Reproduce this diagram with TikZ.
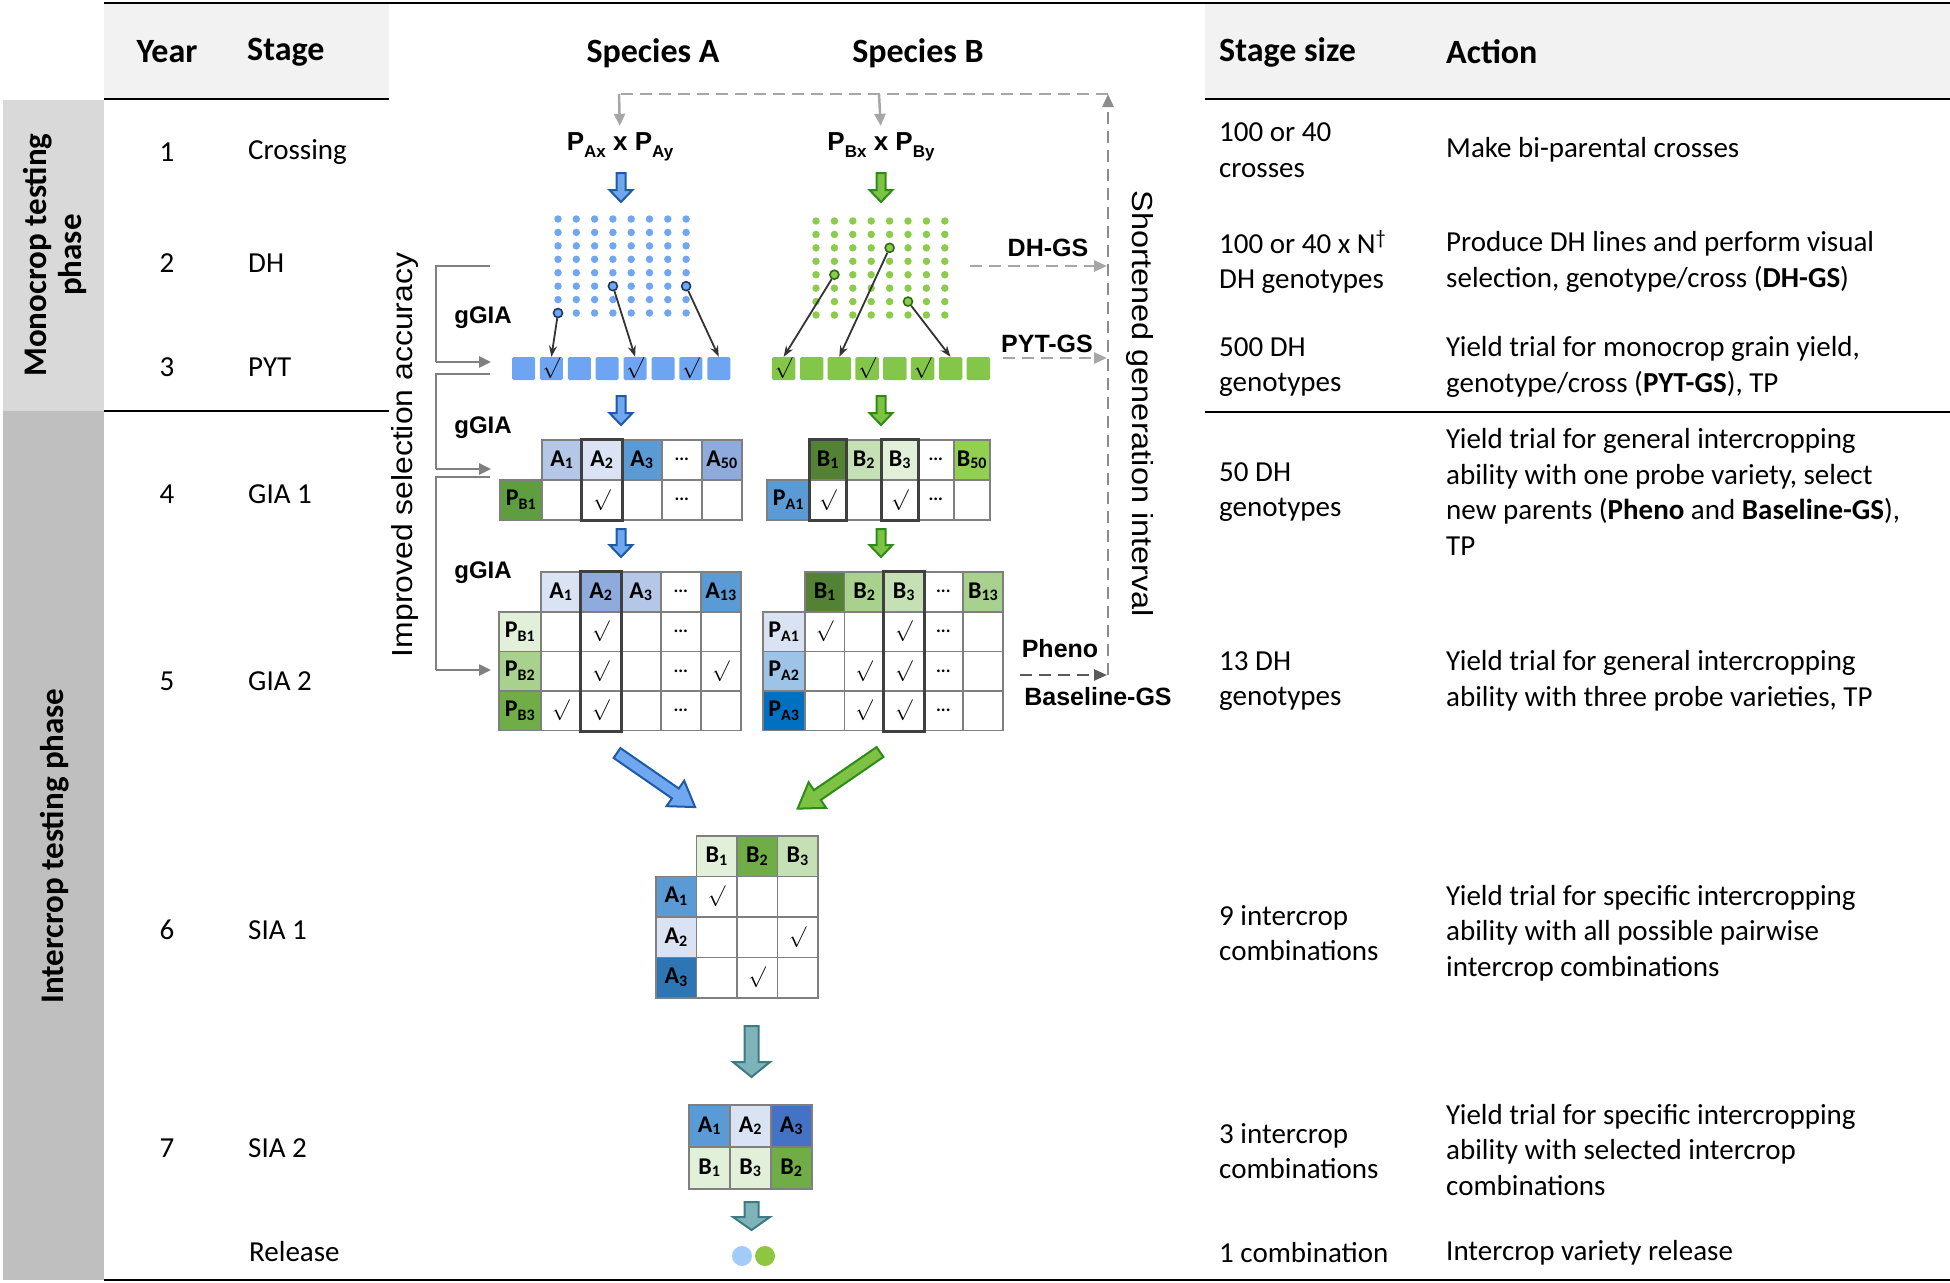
\documentclass[tikz,border=0pt]{standalone}
\usepackage{fontspec}
\setmainfont{Carlito}
\newfontfamily\arl{Liberation Sans}
\usetikzlibrary{arrows.meta}
\definecolor{hdrgray}{HTML}{F2F2F2}
\definecolor{monogray}{HTML}{D9D9D9}
\definecolor{intergray}{HTML}{BFBFBF}
\definecolor{dotblue}{HTML}{70A7F0}
\definecolor{dotgreen}{HTML}{8CCB4E}
\definecolor{sqblue}{HTML}{6DA5F2}
\definecolor{sqgreen}{HTML}{84C64A}
\definecolor{mnavy}{HTML}{1F3864}
\definecolor{mdkgreen}{HTML}{2E6B12}
\definecolor{arrblueF}{HTML}{6FA8F0}
\definecolor{arrblueD}{HTML}{1F5AA6}
\definecolor{arrgreenF}{HTML}{7DC242}
\definecolor{arrgreenD}{HTML}{2E8B1A}
\definecolor{tealF}{HTML}{7FB3BA}
\definecolor{tealD}{HTML}{3D7A83}
\definecolor{cellgray}{HTML}{7F7F7F}
\definecolor{lgray}{HTML}{A6A6A6}
\definecolor{mgray}{HTML}{8C8C8C}
\definecolor{dgray}{HTML}{595959}
\definecolor{bgray}{HTML}{808080}
\definecolor{ptrgray}{HTML}{333333}
\definecolor{bA}{HTML}{DAE3F3}
\definecolor{bB}{HTML}{B4C7E7}
\definecolor{bC}{HTML}{8FAADC}
\definecolor{bD}{HTML}{5B9BD5}
\definecolor{bE}{HTML}{2E75B6}
\definecolor{bF}{HTML}{0070C0}
\definecolor{bG}{HTML}{4472C4}
\definecolor{bH}{HTML}{9DC3E6}
\definecolor{gA}{HTML}{E2F0D9}
\definecolor{gB}{HTML}{C5E0B4}
\definecolor{gC}{HTML}{A9D18E}
\definecolor{gD}{HTML}{70AD47}
\definecolor{gE}{HTML}{548235}
\definecolor{gF}{HTML}{92D050}
\definecolor{gG}{HTML}{5E9E3E}
\definecolor{relblue}{HTML}{A3CBF7}
\definecolor{relgreen}{HTML}{8DC63F}
\newcommand{\lbl}[2]{#1\raisebox{-0.12em}{\fontsize{16}{16}\selectfont #2}}
\newcommand{\plbl}[1]{P\raisebox{-0.15em}{\fontsize{16}{16}\selectfont #1}}
\newcommand{\ck}{{\normalsize\scalebox{2.1}{$\surd$}}}
\newcommand{\ellip}{\raisebox{-0.1em}{\fontsize{18}{18}\selectfont\bfseries ...}}
\newcommand{\tcell}[7]{\node[tcellst,fill=#6,minimum width=#4pt,minimum height=#5pt] (#1) at (#2,#3) {#7};}
\newcommand{\blockarr}[8]{\begin{scope}[shift={(#1,#2)},rotate=#3]\filldraw[#8] (0,{-#5/2}) -- ({#4-#7},{-#5/2}) -- ({#4-#7},{-#6/2}) -- (#4,0) -- ({#4-#7},{#6/2}) -- ({#4-#7},{#5/2}) -- (0,{#5/2}) -- cycle;\end{scope}}
\newcommand{\pxlabel}[2]{P\raisebox{-0.25em}{\fontsize{17}{17}\selectfont #1} x P\raisebox{-0.25em}{\fontsize{17}{17}\selectfont #2}}
\begin{document}
\begin{tikzpicture}[x=1pt,y=-1pt,
  hdr/.style={font=\fontsize{34}{40}\selectfont\bfseries, inner sep=0pt},
  body/.style={font=\fontsize{29}{35.5}\selectfont, align=left, anchor=west, inner sep=0pt},
  yr/.style={font=\fontsize{29}{35.5}\selectfont, inner sep=0pt},
  phase/.style={font=\fontsize{33}{35}\selectfont\bfseries, align=center, inner sep=0pt, rotate=90},
  lab/.style={font=\arl\bfseries\fontsize{25}{30}\selectfont, inner sep=0pt},
  rotlab/.style={font=\arl\fontsize{29}{32}\selectfont, inner sep=0pt},
  tcellst/.style={draw=cellgray, line width=1.5pt, inner sep=0pt, anchor=north west, font=\bfseries\fontsize{24}{24}\selectfont},
  hl/.style={draw=black!75, line width=3pt},
  dotA/.style={circle, fill=dotblue, inner sep=0pt, minimum size=7.5pt},
  dotB/.style={circle, fill=dotgreen, inner sep=0pt, minimum size=7.5pt},
  dotAh/.style={circle, fill=dotblue, draw=mnavy, line width=1.6pt, inner sep=0pt, minimum size=9pt},
  dotBh/.style={circle, fill=dotgreen, draw=mdkgreen, line width=1.6pt, inner sep=0pt, minimum size=9pt},
  sqA/.style={rectangle, rounded corners=1.5pt, fill=sqblue, inner sep=0pt, minimum width=23pt, minimum height=23pt},
  sqB/.style={rectangle, rounded corners=1.5pt, fill=sqgreen, inner sep=0pt, minimum width=23.5pt, minimum height=23pt},
  ptr/.style={draw=ptrgray, line width=1.8pt, -{Stealth[length=11pt,width=8pt]}},
  brk/.style={draw=bgray, line width=2.5pt},
  brkarr/.style={draw=bgray, line width=2.5pt, -{Triangle[length=12pt,width=11pt]}},
  fb/.style={draw=lgray, line width=2.5pt, dash pattern=on 12pt off 7pt},
  fbarr/.style={draw=lgray, line width=2.5pt, dash pattern=on 12pt off 7pt, -{Triangle[length=13pt,width=11pt]}},
  fbsolid/.style={draw=lgray, line width=2.5pt, -{Triangle[length=12pt,width=11pt]}},
  pharr/.style={draw=dgray, line width=2.5pt, dash pattern=on 12pt off 7pt, -{Triangle[length=13pt,width=11pt]}},
  barrB/.style={fill=arrblueF, draw=arrblueD, line width=2pt, line join=miter},
  barrG/.style={fill=arrgreenF, draw=arrgreenD, line width=2pt, line join=miter},
  barrT/.style={fill=tealF, draw=tealD, line width=2pt, line join=miter}
]
\useasboundingbox (0,0) rectangle (1950,1282);
% backgrounds
\fill[hdrgray] (104,4) rectangle (389,98);
\fill[hdrgray] (1205,4) rectangle (1950,98);
\fill[monogray] (3,100) rectangle (104,411);
\fill[intergray] (3,411) rectangle (104,1280);
% rules
\draw[line width=2.5pt] (104,3) -- (1950,3);
\draw[line width=2.5pt] (104,99) -- (389,99);
\draw[line width=2.5pt] (1205,99) -- (1950,99);
\draw[line width=2pt] (104,411) -- (389,411);
\draw[line width=2pt] (1205,412) -- (1950,412);
\draw[line width=2.5pt] (104,1280) -- (1950,1280);
% headers
\node[hdr] (hYear) at (167,52) {Year};
\node[hdr, anchor=west] (hStage) at (247,52) {Stage};
\node[hdr] (hSpA) at (653,53) {Species A};
\node[hdr] (hSpB) at (918,53) {Species B};
\node[hdr, anchor=west] (hSize) at (1219,52) {Stage size};
\node[hdr, anchor=west] (hAct) at (1446,52) {Action};
% phases
\node[phase] (pMono) at (55,255) {Monocrop testing\\phase};
\node[phase] (pInter) at (55,846) {Intercrop testing phase};
% year & stage
\node[yr] (y1) at (167,152) {1};
\node[yr] (y2) at (167,263) {2};
\node[yr] (y3) at (167,367) {3};
\node[yr] (y4) at (167,494) {4};
\node[yr] (y5) at (167,681) {5};
\node[yr] (y6) at (167,930) {6};
\node[yr] (y7) at (167,1148) {7};
\node[body] (s1) at (248,152) {Crossing};
\node[body] (s2) at (248,263) {DH};
\node[body] (s3) at (248,367) {PYT};
\node[body] (s4) at (248,494) {GIA 1};
\node[body] (s5) at (248,681) {GIA 2};
\node[body] (s6) at (248,930) {SIA 1};
\node[body] (s7) at (248,1148) {SIA 2};
\node[body] (s8) at (249,1252) {Release};
% stage size
\node[body] (z1) at (1219,150) {100 or 40\\crosses};
\node[body] (z2) at (1219,262) {100 or 40 x N\textsuperscript{\textdagger}\\DH genotypes};
\node[body] (z3) at (1219,367) {500 DH\\genotypes};
\node[body] (z4) at (1219,492) {50 DH\\genotypes};
\node[body] (z5) at (1219,681) {13 DH\\genotypes};
\node[body] (z6) at (1219,933) {9 intercrop\\combinations};
\node[body] (z7) at (1219,1151) {3 intercrop\\combinations};
\node[body] (z8) at (1219,1253) {1 combination};
% action
\node[body] (a1) at (1446,150) {Make bi-parental crosses};
\node[body] (a2) at (1446,262) {Produce DH lines and perform visual\\selection, genotype/cross (\textbf{DH-GS})};
\node[body] (a3) at (1446,367) {Yield trial for monocrop grain yield,\\genotype/cross (\textbf{PYT-GS}), TP};
\node[body] (a4) at (1446,492) {Yield trial for general intercropping\\ability with one probe variety, select\\new parents (\textbf{Pheno} and \textbf{Baseline-GS}),\\TP};
\node[body] (a5) at (1446,681) {Yield trial for general intercropping\\ability with three probe varieties, TP};
\node[body] (a6) at (1446,933) {Yield trial for specific intercropping\\ability with all possible pairwise\\intercrop combinations};
\node[body] (a7) at (1446,1150) {Yield trial for specific intercropping\\ability with selected intercrop\\combinations};
\node[body] (a8) at (1446,1253) {Intercrop variety release};
% parents
\node[lab, font=\arl\bfseries\fontsize{26}{30}\selectfont] (pxA) at (620,147) {\pxlabel{Ax}{Ay}};
\node[lab, font=\arl\bfseries\fontsize{26}{30}\selectfont] (pxB) at (881,147) {\pxlabel{Bx}{By}};
% feedback loop
\coordinate (fbA) at (619,94);
\coordinate (fbB) at (879,94);
\coordinate (fbC) at (1108,94);
\coordinate (fbBot) at (1108,675);
\coordinate (dhS) at (970,266);
\coordinate (dhE) at (1107,266);
\coordinate (pyS) at (1003,358);
\coordinate (pyE) at (1107,358);
\coordinate (phS) at (1020,675);
\coordinate (phE) at (1107,675);
\draw[fb] (fbC) -- (fbA);
\draw[fbsolid, shorten >=7pt] (fbA) -- (pxA.north);
\draw[fbsolid, shorten >=7pt] (fbB) -- (pxB.north);
\draw[fbarr, draw=mgray] (fbBot) -- (fbC);
\draw[fbarr] (dhS) -- (dhE);
\draw[fbarr] (pyS) -- (pyE);
\draw[pharr] (phS) -- (phE);
\node[lab] (lDH) at (1048,248) {DH-GS};
\node[lab] (lPY) at (1047,344) {PYT-GS};
\node[lab] (lPh) at (1060,649) {Pheno};
\node[lab] (lBa) at (1098,697) {Baseline-GS};
\node[rotlab, rotate=-90] (lShort) at (1140,404) {\scalebox{1.12}[1]{Shortened generation interval}};
\node[rotlab, rotate=90] (lImp) at (405,455) {\scalebox{1.1}[1]{Improved selection accuracy}};
% gGIA labels
\node[lab, font=\arl\bfseries\fontsize{24}{28}\selectfont] (g1) at (483,318) {gGIA};
\node[lab, font=\arl\bfseries\fontsize{24}{28}\selectfont] (g2) at (483,428) {gGIA};
\node[lab, font=\arl\bfseries\fontsize{24}{28}\selectfont] (g3) at (483,573) {gGIA};
% brackets
\coordinate (b1t) at (490,266); \coordinate (b1c) at (436,266); \coordinate (b1d) at (436,362); \coordinate (b1e) at (491,362);
\coordinate (b2t) at (490,374); \coordinate (b2c) at (436,374); \coordinate (b2d) at (436,469); \coordinate (b2e) at (491,469);
\coordinate (b3t) at (490,477); \coordinate (b3c) at (436,477); \coordinate (b3d) at (436,670); \coordinate (b3e) at (491,670);
\draw[brk] (b1t) -- (b1c) -- (b1d);
\draw[brkarr] (b1d) -- (b1e);
\draw[brk] (b2t) -- (b2c) -- (b2d);
\draw[brkarr] (b2d) -- (b2e);
\draw[brk] (b3t) -- (b3c) -- (b3d);
\draw[brkarr] (b3d) -- (b3e);
% block arrows
\blockarr{621}{173}{-90}{29}{9}{23}{12}{barrB}
\blockarr{881}{173}{-90}{29}{9}{23}{12}{barrG}
\blockarr{621}{396}{-90}{29}{9}{23}{12}{barrB}
\blockarr{881}{396}{-90}{29}{9}{23}{12}{barrG}
\blockarr{621}{529}{-90}{28}{9}{23}{12}{barrB}
\blockarr{881}{529}{-90}{28}{9}{23}{12}{barrG}
\blockarr{617}{753}{-34.7}{95}{12}{31}{24}{barrB}
\blockarr{880}{752}{-145.5}{100}{12}{31}{24}{barrG}
\blockarr{751.5}{1026}{-90}{51}{14}{37}{15}{barrT}
\blockarr{751.5}{1202}{-90}{28}{14}{37}{13}{barrT}
% dot grids
\foreach \i in {0,...,7}{\foreach \j in {0,...,7}{
  \node[dotA] (dA\i\j) at ({558+18.3*\i},{219+13.43*\j}) {};
  \node[dotB] (dB\i\j) at ({816+18.4*\i},{221+13.43*\j}) {};
}}
\node[dotAh] (hA1) at (dA07) {};
\node[dotAh] (hA2) at (dA35) {};
\node[dotAh] (hA3) at (dA75) {};
\node[dotBh] (hB1) at (dB14) {};
\node[dotBh] (hB2) at (dB42) {};
\node[dotBh] (hB3) at (dB56) {};
% PYT squares
\foreach \k in {0,...,7}{
  \node[sqA] (qA\k) at ({523.5+27.9*\k},368.5) {};
  \node[sqB] (qB\k) at ({783.7+27.8*\k},368.5) {};
}
\node[inner sep=0pt] (cqA1) at (qA1) {\ck};
\node[inner sep=0pt] (cqA4) at (qA4) {\ck};
\node[inner sep=0pt] (cqA6) at (qA6) {\ck};
\node[inner sep=0pt] (cqB0) at (qB0) {\ck};
\node[inner sep=0pt] (cqB3) at (qB3) {\ck};
\node[inner sep=0pt] (cqB5) at (qB5) {\ck};
\draw[ptr] (hA1) -- (qA1.north);
\draw[ptr] (hA2) -- (qA4.north);
\draw[ptr] (hA3) -- (qA7.north);
\draw[ptr] (hB1) -- (qB0.north);
\draw[ptr] (hB2) -- (qB2.north);
\draw[ptr] (hB3) -- (qB6.north);
% GIA1 table A
\tcell{a1h1}{541}{439}{40}{40}{bB}{\lbl{A}{1}}
\tcell{a1h2}{581}{439}{40}{40}{bA}{\lbl{A}{2}}
\tcell{a1h3}{621}{439}{40}{40}{bD}{\lbl{A}{3}}
\tcell{a1h4}{661}{439}{40}{40}{white}{\ellip}
\tcell{a1h5}{701}{439}{40}{40}{bC}{\lbl{A}{50}}
\tcell{a1p}{499}{479}{42}{40}{gG}{\plbl{B1}}
\tcell{a1c1}{541}{479}{40}{40}{white}{}
\tcell{a1c2}{581}{479}{40}{40}{white}{\ck}
\tcell{a1c3}{621}{479}{40}{40}{white}{}
\tcell{a1c4}{661}{479}{40}{40}{white}{\ellip}
\tcell{a1c5}{701}{479}{40}{40}{white}{}
\draw[hl] (a1h2.north west) rectangle (a1c2.south east);
% GIA1 table B
\tcell{b1h1}{809}{439}{36}{40}{gE}{\lbl{B}{1}}
\tcell{b1h2}{845}{439}{36}{40}{gB}{\lbl{B}{2}}
\tcell{b1h3}{881}{439}{36}{40}{gA}{\lbl{B}{3}}
\tcell{b1h4}{917}{439}{36}{40}{white}{\ellip}
\tcell{b1h5}{953}{439}{36}{40}{gF}{\lbl{B}{50}}
\tcell{b1p}{766}{479}{43}{40}{bD}{\plbl{A1}}
\tcell{b1c1}{809}{479}{36}{40}{white}{\ck}
\tcell{b1c2}{845}{479}{36}{40}{white}{}
\tcell{b1c3}{881}{479}{36}{40}{white}{\ck}
\tcell{b1c4}{917}{479}{36}{40}{white}{\ellip}
\tcell{b1c5}{953}{479}{36}{40}{white}{}
\draw[hl] (b1h1.north west) rectangle (b1c1.south east);
\draw[hl] (b1h3.north west) rectangle (b1c3.south east);
% GIA2 table A
\tcell{a2h1}{540}{571}{40}{40}{bA}{\lbl{A}{1}}
\tcell{a2h2}{580}{571}{40}{40}{bC}{\lbl{A}{2}}
\tcell{a2h3}{620}{571}{40}{40}{bB}{\lbl{A}{3}}
\tcell{a2h4}{660}{571}{40}{40}{white}{\ellip}
\tcell{a2h5}{700}{571}{40}{40}{bD}{\lbl{A}{13}}
\tcell{a2p1}{498}{611}{42}{39.5}{gA}{\plbl{B1}}
\tcell{a2p2}{498}{650.5}{42}{39.5}{gC}{\plbl{B2}}
\tcell{a2p3}{498}{690}{42}{39.5}{gD}{\plbl{B3}}
\tcell{a2r1c1}{540}{611}{40}{39.5}{white}{}
\tcell{a2r1c2}{580}{611}{40}{39.5}{white}{\ck}
\tcell{a2r1c3}{620}{611}{40}{39.5}{white}{}
\tcell{a2r1c4}{660}{611}{40}{39.5}{white}{\ellip}
\tcell{a2r1c5}{700}{611}{40}{39.5}{white}{}
\tcell{a2r2c1}{540}{650.5}{40}{39.5}{white}{}
\tcell{a2r2c2}{580}{650.5}{40}{39.5}{white}{\ck}
\tcell{a2r2c3}{620}{650.5}{40}{39.5}{white}{}
\tcell{a2r2c4}{660}{650.5}{40}{39.5}{white}{\ellip}
\tcell{a2r2c5}{700}{650.5}{40}{39.5}{white}{\ck}
\tcell{a2r3c1}{540}{690}{40}{39.5}{white}{\ck}
\tcell{a2r3c2}{580}{690}{40}{39.5}{white}{\ck}
\tcell{a2r3c3}{620}{690}{40}{39.5}{white}{}
\tcell{a2r3c4}{660}{690}{40}{39.5}{white}{\ellip}
\tcell{a2r3c5}{700}{690}{40}{39.5}{white}{}
\draw[hl] (a2h2.north west) rectangle (a2r3c2.south east);
% GIA2 table B
\tcell{b2h1}{804}{571}{39.6}{40}{gE}{\lbl{B}{1}}
\tcell{b2h2}{843.6}{571}{39.6}{40}{gC}{\lbl{B}{2}}
\tcell{b2h3}{883.2}{571}{39.6}{40}{gB}{\lbl{B}{3}}
\tcell{b2h4}{922.8}{571}{39.6}{40}{white}{\ellip}
\tcell{b2h5}{962.4}{571}{39.6}{40}{gC}{\lbl{B}{13}}
\tcell{b2p1}{762}{611}{42}{39.5}{bA}{\plbl{A1}}
\tcell{b2p2}{762}{650.5}{42}{39.5}{bH}{\plbl{A2}}
\tcell{b2p3}{762}{690}{42}{39.5}{bF}{\plbl{A3}}
\tcell{b2r1c1}{804}{611}{39.6}{39.5}{white}{\ck}
\tcell{b2r1c2}{843.6}{611}{39.6}{39.5}{white}{}
\tcell{b2r1c3}{883.2}{611}{39.6}{39.5}{white}{\ck}
\tcell{b2r1c4}{922.8}{611}{39.6}{39.5}{white}{\ellip}
\tcell{b2r1c5}{962.4}{611}{39.6}{39.5}{white}{}
\tcell{b2r2c1}{804}{650.5}{39.6}{39.5}{white}{}
\tcell{b2r2c2}{843.6}{650.5}{39.6}{39.5}{white}{\ck}
\tcell{b2r2c3}{883.2}{650.5}{39.6}{39.5}{white}{\ck}
\tcell{b2r2c4}{922.8}{650.5}{39.6}{39.5}{white}{\ellip}
\tcell{b2r2c5}{962.4}{650.5}{39.6}{39.5}{white}{}
\tcell{b2r3c1}{804}{690}{39.6}{39.5}{white}{}
\tcell{b2r3c2}{843.6}{690}{39.6}{39.5}{white}{\ck}
\tcell{b2r3c3}{883.2}{690}{39.6}{39.5}{white}{\ck}
\tcell{b2r3c4}{922.8}{690}{39.6}{39.5}{white}{\ellip}
\tcell{b2r3c5}{962.4}{690}{39.6}{39.5}{white}{}
\draw[hl] (b2h3.north west) rectangle (b2r3c3.south east);
% SIA1
\tcell{s1h1}{695.5}{835}{40.5}{40.5}{gA}{\lbl{B}{1}}
\tcell{s1h2}{736}{835}{40.5}{40.5}{gD}{\lbl{B}{2}}
\tcell{s1h3}{776.5}{835}{40.5}{40.5}{gB}{\lbl{B}{3}}
\tcell{s1p1}{655}{875.5}{40.5}{40.5}{bD}{\lbl{A}{1}}
\tcell{s1p2}{655}{916}{40.5}{40.5}{bA}{\lbl{A}{2}}
\tcell{s1p3}{655}{956.5}{40.5}{40.5}{bE}{\lbl{A}{3}}
\tcell{s1r1c1}{695.5}{875.5}{40.5}{40.5}{white}{\ck}
\tcell{s1r1c2}{736}{875.5}{40.5}{40.5}{white}{}
\tcell{s1r1c3}{776.5}{875.5}{40.5}{40.5}{white}{}
\tcell{s1r2c1}{695.5}{916}{40.5}{40.5}{white}{}
\tcell{s1r2c2}{736}{916}{40.5}{40.5}{white}{}
\tcell{s1r2c3}{776.5}{916}{40.5}{40.5}{white}{\ck}
\tcell{s1r3c1}{695.5}{956.5}{40.5}{40.5}{white}{}
\tcell{s1r3c2}{736}{956.5}{40.5}{40.5}{white}{\ck}
\tcell{s1r3c3}{776.5}{956.5}{40.5}{40.5}{white}{}
% SIA2
\tcell{s2a1}{688}{1104}{41}{42}{bD}{\lbl{A}{1}}
\tcell{s2a2}{729}{1104}{41}{42}{bA}{\lbl{A}{2}}
\tcell{s2a3}{770}{1104}{41}{42}{bG}{\lbl{A}{3}}
\tcell{s2b1}{688}{1146}{41}{42}{gA}{\lbl{B}{1}}
\tcell{s2b3}{729}{1146}{41}{42}{gA}{\lbl{B}{3}}
\tcell{s2b2}{770}{1146}{41}{42}{gD}{\lbl{B}{2}}
% release
\node[circle, fill=relblue, inner sep=0pt, minimum size=20pt] (rel1) at (742,1256) {};
\node[circle, fill=relgreen, inner sep=0pt, minimum size=20pt] (rel2) at (765,1256) {};
\end{tikzpicture}
\end{document}
